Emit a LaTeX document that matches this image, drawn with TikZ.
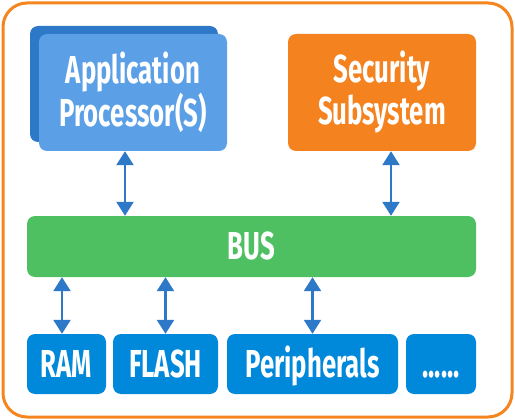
\documentclass[tikz,border=0pt]{standalone}
\usepackage{fontspec}
\setmainfont{Fira Sans}[FakeStretch=0.66]
\usetikzlibrary{arrows.meta,calc}
\definecolor{frameor}{HTML}{F5851F}
\definecolor{apfront}{HTML}{5B9FE6}
\definecolor{apback}{HTML}{2E78C8}
\definecolor{secor}{HTML}{F4821F}
\definecolor{busgr}{HTML}{4FC062}
\definecolor{membl}{HTML}{0088DA}
\definecolor{arrbl}{HTML}{2E78C8}
\tikzset{
  blk/.style={rectangle, rounded corners=8pt, inner sep=0pt, text=white,
    font=\fontsize{39}{42}\selectfont\bfseries, align=center},
  oneline/.style={text height=26pt, text depth=0pt},
  arr/.style={draw=arrbl, line width=2.5pt,
    {Triangle[width=17pt,length=14pt]}-{Triangle[width=17pt,length=14pt]}}
}
\begin{document}
\begin{tikzpicture}[x=1pt,y=-1pt]
\useasboundingbox (0,0) rectangle (515,420);
\draw[frameor, line width=3pt, rounded corners=24pt] (3,3) rectangle (512,417);
\node[blk, fill=apback, minimum width=188pt, minimum height=116pt] (apb) at (124,84) {};
\node[blk, fill=apfront, minimum width=188pt, minimum height=117pt] (ap) at (133,92.5) {Application\\Processor(S)};
\node[blk, fill=secor, minimum width=188pt, minimum height=117pt] (sec) at (382,92.5) {Security\\Subsystem};
\node[blk, oneline, fill=busgr, minimum width=449pt, minimum height=61pt] (bus) at (251.5,246.5) {BUS};
\node[blk, oneline, fill=membl, minimum width=79pt, minimum height=60pt] (ram) at (66.5,364) {RAM};
\node[blk, oneline, fill=membl, minimum width=105pt, minimum height=60pt] (flash) at (165.5,364) {FLASH};
\node[blk, oneline, fill=membl, minimum width=171pt, minimum height=60pt] (peri) at (312.5,364) {Peripherals};
\node[blk, oneline, fill=membl, minimum width=70pt, minimum height=60pt] (dots) at (441,364) {......};
\draw[arr] ([xshift=-8pt]ap.south) -- ([xshift=-8pt]ap.south |- bus.north);
\draw[arr] ([xshift=9pt]sec.south) -- ([xshift=9pt]sec.south |- bus.north);
\draw[arr] ([xshift=-4.5pt]ram.north |- bus.south) -- ([xshift=-4.5pt]ram.north);
\draw[arr] (flash.north |- bus.south) -- (flash.north);
\draw[arr] (peri.north |- bus.south) -- (peri.north);
\end{tikzpicture}
\end{document}
